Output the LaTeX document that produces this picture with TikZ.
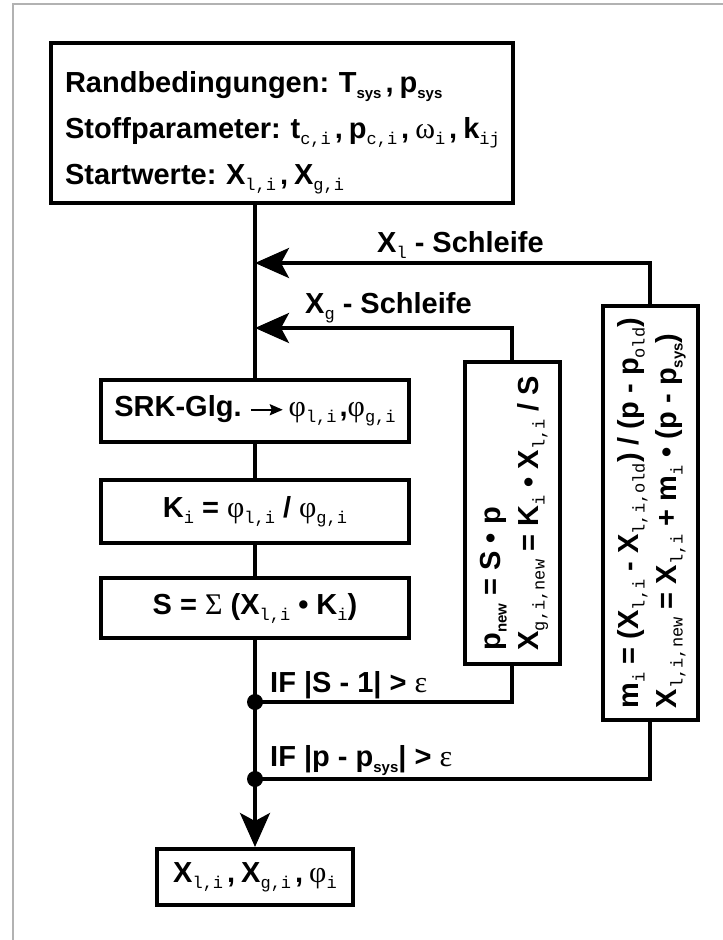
\documentclass[tikz,border=0pt]{standalone}
\usepackage{fontspec}
\setmainfont{Liberation Sans}
\newfontfamily\monofnt{Liberation Mono}
\newfontfamily\grkfnt{Liberation Serif}
\usetikzlibrary{arrows.meta}
\frenchspacing

\newcommand\mnsub[1]{\raisebox{-6pt}{\fontsize{17}{17}\selectfont\monofnt\mdseries #1}}
\newcommand\sfsub[1]{\raisebox{-6pt}{\fontsize{15}{15}\selectfont #1}}
\newcommand\gsym[1]{{\fontsize{30}{30}\selectfont\grkfnt\mdseries #1}}
\newcommand\cma{\kern4pt,\kern6pt}
\newcommand\srkarrow{\tikz[baseline=-7pt]\draw[line width=2.2pt,-{Stealth[length=13pt,width=11pt,inset=2pt]}] (0pt,0pt) -- (32pt,0pt);}

\begin{document}
\begin{tikzpicture}[x=1pt,y=-1pt,
  blk/.style={draw,line width=4pt,inner sep=0pt,font=\fontsize{29}{46}\selectfont\bfseries},
  vblk/.style={blk,font=\fontsize{29}{38}\selectfont\bfseries},
  lbl/.style={anchor=base west,inner sep=0pt,font=\fontsize{29}{29}\selectfont\bfseries},
  con/.style={line width=3.6pt},
  arr/.style={con,-{Stealth[length=34pt,width=30pt,inset=8pt]}},
  jdot/.style={circle,fill,inner sep=0pt,minimum size=16pt}]
\useasboundingbox (0,0) rectangle (723,940);
\draw[gray!60,line width=1.5pt] (723,4) -- (13,4) -- (13,940);

% Eingabe
\node[blk,minimum width=462,minimum height=160,text width=434,align=left] (start) at (282,123)
  {\mbox{\rule{0pt}{40pt}Randbedingungen: T\sfsub{sys}\cma p\sfsub{sys}}\\
   \mbox{Stoffparameter: t\mnsub{c,i}\cma p\mnsub{c,i}\cma\gsym{ω}\mnsub{i}\cma k\mnsub{ij}}\\
   \mbox{Startwerte: X\mnsub{l,i}\cma X\mnsub{g,i}}};

% Rechenkette
\node[blk,minimum width=308,minimum height=62] (srk) at (255,411)
  {SRK-Glg. \srkarrow\,\gsym{φ}\mnsub{l,i}\kern3pt,\gsym{φ}\mnsub{g,i}};
\node[blk,minimum width=308,minimum height=63] (kbox) at (255,511.5)
  {K\mnsub{i} = \gsym{φ}\mnsub{l,i} / \gsym{φ}\mnsub{g,i}};
\node[blk,minimum width=308,minimum height=60] (sbox) at (255,608)
  {S = \gsym{Σ} (X\mnsub{l,i} • K\mnsub{i})};
\node[blk,minimum width=196,minimum height=56] (res) at (255,877)
  {X\mnsub{l,i}\cma X\mnsub{g,i}\cma\gsym{φ}\mnsub{i}};

% Korrekturen
\node[vblk,minimum width=95,minimum height=302] (pbox) at (512,513)
  {\rotatebox{90}{\begin{tabular}{@{}l@{}}p\sfsub{new} = S • p\\
   X\mnsub{g,i,new} = K\mnsub{i} • X\mnsub{l,i} / S\end{tabular}}};
\node[vblk,minimum width=95,minimum height=414] (mbox) at (650,513)
  {\rotatebox{90}{\begin{tabular}{@{}l@{}}m\mnsub{i} = (X\mnsub{l,i} - X\mnsub{l,i,old}) / (p - p\mnsub{old})\\
   X\mnsub{l,i,new} = X\mnsub{l,i} + m\mnsub{i} • (p - p\sfsub{sys})\end{tabular}}};

% Beschriftungen
\node[lbl] (lxl) at (377,252) {X\mnsub{l} - Schleife};
\node[lbl] (lxg) at (305,313) {X\mnsub{g} - Schleife};
\node[lbl] (lif1) at (270,692) {IF |S - 1| > \gsym{ε}};
\node[lbl] (lif2) at (270,766) {IF |p - p\sfsub{sys}| > \gsym{ε}};

\coordinate (xl) at (255,263);
\coordinate (xg) at (255,328);
\coordinate (j1) at (255,702);
\coordinate (j2) at (255,779);

\draw[con] (start.south -| srk.north) -- (srk.north);
\draw[con] (srk.south) -- (kbox.north);
\draw[con] (kbox.south) -- (sbox.north);
\draw[con] (sbox.south) -- (j2);
\draw[arr] (j2) -- (res.north);
\draw[arr] (mbox.north) |- (xl);
\draw[arr] (pbox.north) |- (xg);
\draw[con] (j1) -| (pbox.south);
\draw[con] (j2) -| (mbox.south);
\node[jdot] (d1) at (j1) {};
\node[jdot] (d2) at (j2) {};
\end{tikzpicture}
\end{document}
